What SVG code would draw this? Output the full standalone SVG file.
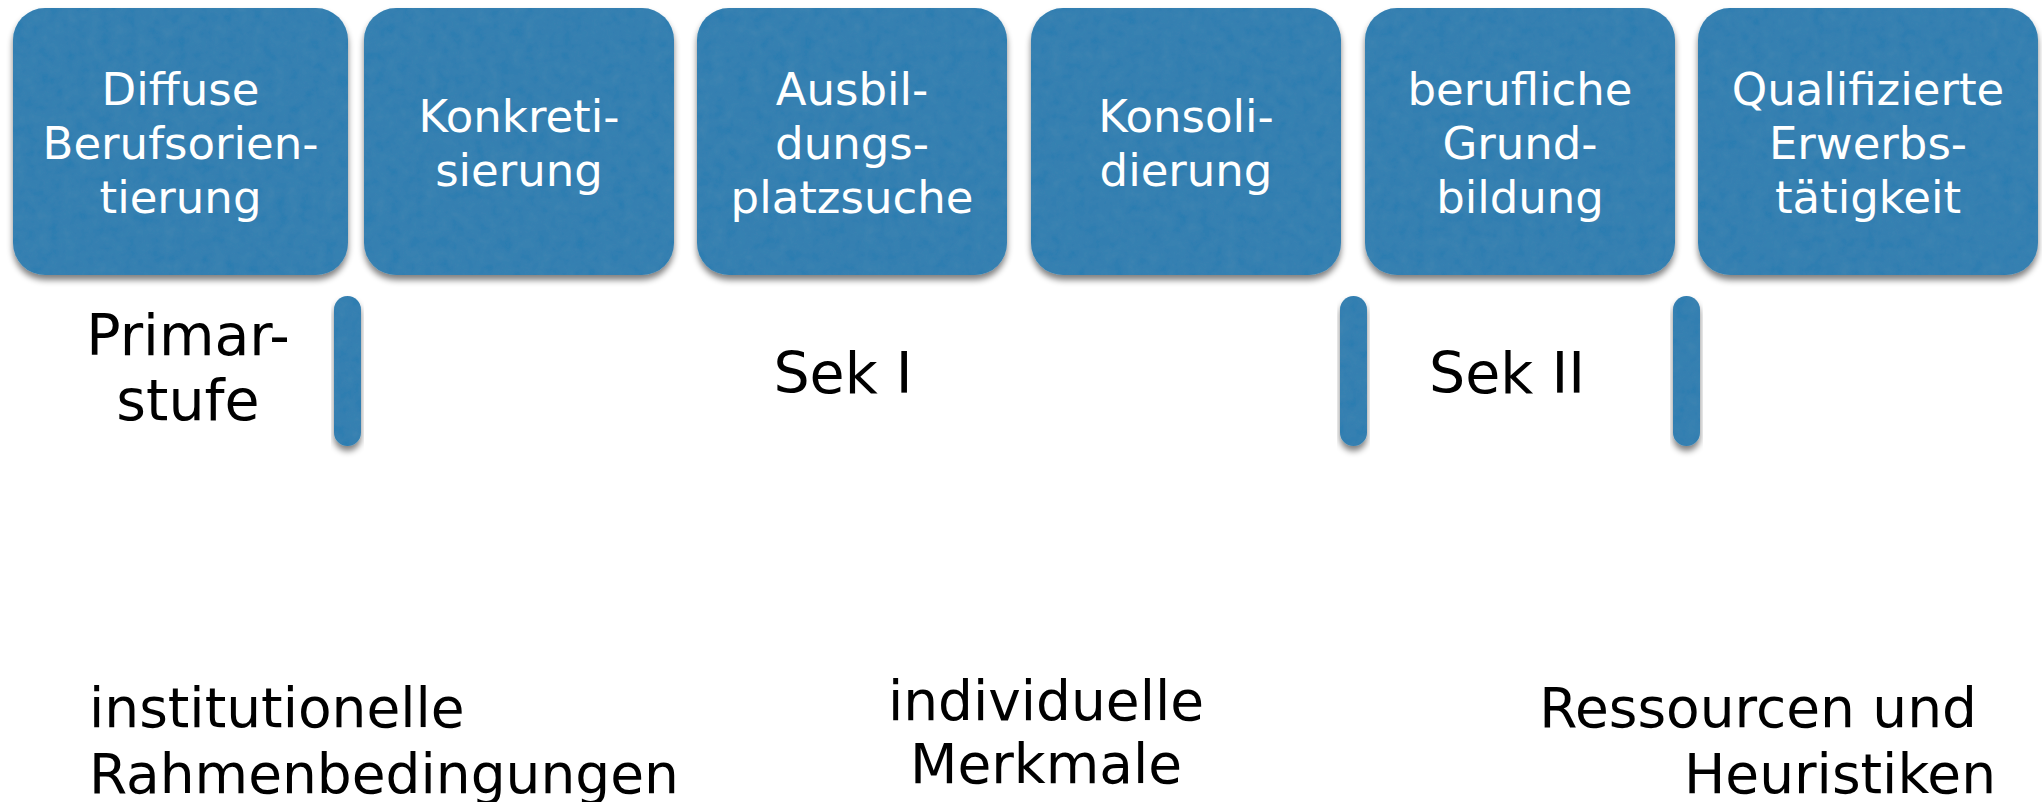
<svg xmlns="http://www.w3.org/2000/svg" width="2042" height="802" viewBox="0 0 2042 802">
<defs>
<filter id="felt" x="-10%" y="-10%" width="120%" height="125%">
<feTurbulence type="fractalNoise" baseFrequency="0.08" numOctaves="3" seed="4" result="noise"/>
<feColorMatrix in="noise" type="matrix" values="0 0 0 0 0.1  0 0 0 0 0.3  0 0 0 0 0.45  0 0 0 0.35 -0.05" result="tint"/>
<feComposite in="tint" in2="SourceGraphic" operator="in" result="tex"/>
<feMerge result="fill"><feMergeNode in="SourceGraphic"/><feMergeNode in="tex"/></feMerge>
<feGaussianBlur in="SourceAlpha" stdDeviation="3" result="blur"/>
<feOffset in="blur" dx="0" dy="5" result="off"/>
<feComponentTransfer in="off" result="shadow"><feFuncA type="linear" slope="0.5"/></feComponentTransfer>
<feMerge><feMergeNode in="shadow"/><feMergeNode in="fill"/></feMerge>
</filter>
</defs>
<style>
.box{fill:#2f7db1;filter:url(#felt)}
.bar{fill:#2f7db1;filter:url(#felt)}
.bt{font-family:"DejaVu Sans",Verdana,sans-serif;font-size:45px;fill:#ffffff;text-anchor:middle}
.lb{font-family:"DejaVu Sans",Verdana,sans-serif;font-size:57px;fill:#000000;text-anchor:middle}
.bl{font-family:"DejaVu Sans",Verdana,sans-serif;font-size:55px;fill:#000000}
</style>
<rect width="2042" height="802" fill="#ffffff"/>
<g id="node1"><rect class="box" x="13" y="8" width="335" height="267" rx="32"/>
<text class="bt"><tspan x="180.5" y="105">Diffuse</tspan><tspan x="180.5" y="159">Berufsorien-</tspan><tspan x="180.5" y="213">tierung</tspan></text></g>
<g id="node2"><rect class="box" x="364" y="8" width="310" height="267" rx="32"/>
<text class="bt"><tspan x="519" y="132">Konkreti-</tspan><tspan x="519" y="186">sierung</tspan></text></g>
<g id="node3"><rect class="box" x="697" y="8" width="310" height="267" rx="32"/>
<text class="bt"><tspan x="852" y="105">Ausbil-</tspan><tspan x="852" y="159">dungs-</tspan><tspan x="852" y="213">platzsuche</tspan></text></g>
<g id="node4"><rect class="box" x="1031" y="8" width="310" height="267" rx="32"/>
<text class="bt"><tspan x="1186" y="132">Konsoli-</tspan><tspan x="1186" y="186">dierung</tspan></text></g>
<g id="node5"><rect class="box" x="1365" y="8" width="310" height="267" rx="32"/>
<text class="bt"><tspan x="1520" y="105">berufliche</tspan><tspan x="1520" y="159">Grund-</tspan><tspan x="1520" y="213">bildung</tspan></text></g>
<g id="node6"><rect class="box" x="1698" y="8" width="340" height="267" rx="32"/>
<text class="bt"><tspan x="1868" y="105">Qualifizierte</tspan><tspan x="1868" y="159">Erwerbs-</tspan><tspan x="1868" y="213">tätigkeit</tspan></text></g>
<g id="connectors">
<rect class="bar" x="334" y="296" width="27" height="150" rx="13.5"/>
<rect class="bar" x="1340" y="296" width="27" height="150" rx="13.5"/>
<rect class="bar" x="1673" y="296" width="27" height="150" rx="13.5"/>
</g>
<g id="stage-labels">
<text class="lb"><tspan x="188" y="355">Primar-</tspan><tspan x="188" y="420">stufe</tspan></text>
<text class="lb" x="843" y="393">Sek I</text>
<text class="lb" x="1507" y="393">Sek II</text>
</g>
<g id="factors">
<text class="bl"><tspan x="89" y="727">institutionelle</tspan><tspan x="89" y="793">Rahmenbedingungen</tspan></text>
<text class="bl" text-anchor="middle"><tspan x="1046" y="720">individuelle</tspan><tspan x="1046" y="783">Merkmale</tspan></text>
<text class="bl" text-anchor="end"><tspan x="1977" y="727">Ressourcen und</tspan><tspan x="1996" y="793">Heuristiken</tspan></text>
</g>
</svg>
